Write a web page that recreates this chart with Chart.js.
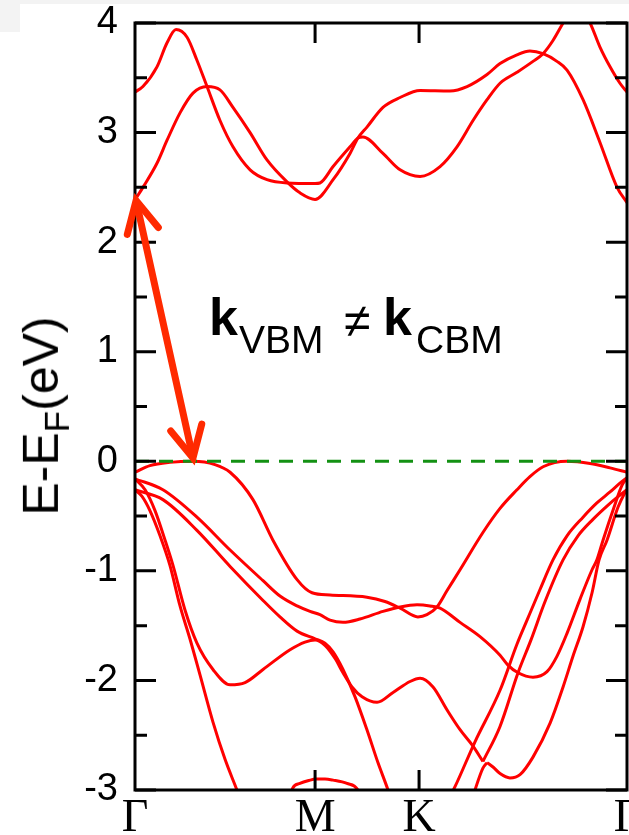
<!DOCTYPE html>
<html>
<head>
<meta charset="utf-8">
<script src="https://cdn.jsdelivr.net/npm/chart.js@4.4.1/dist/chart.umd.min.js"></script>
<style>
  html, body { margin: 0; padding: 0; background: #fff; }
  #wrap { position: relative; width: 629px; height: 835px; overflow: hidden; background: #fff; }
  #c { position: absolute; left: 0; top: 0; }
  .txt { position: absolute; font-family: 'Liberation Sans', Arial, sans-serif; line-height: 1; white-space: nowrap; color: #000; }
  #ytitle { left: 45px; top: 416px; font-size: 50px; transform: translate(-50%, -50%) rotate(-90deg); }
  #ytitle sub { font-size: 0.7em; vertical-align: -0.32em; line-height: 1; }
  .kb { font-weight: bold; font-size: 52px; }
  .sb { font-size: 39px; }
  .neq { font-size: 48px; }
  .shade { position: absolute; background: #f3f3f3; }
</style>
</head>
<body>
<div id="wrap">
  <canvas id="c" width="629" height="835"></canvas>
  <div class="shade" style="left:0;top:0;width:629px;height:4px;"></div>
  <div class="shade" style="left:0;top:0;width:20px;height:32px;"></div>
  <div id="ytitle" class="txt">E-E<sub>F</sub>(eV)</div>
  <div class="txt kb" style="left:209px;top:291px;">k</div>
  <div class="txt sb" style="left:239px;top:320px;">VBM</div>
  <div class="txt neq" style="left:344px;top:297px;">≠</div>
  <div class="txt kb" style="left:383px;top:291px;">k</div>
  <div class="txt sb" style="left:416px;top:320px;">CBM</div>
</div>
<script>
// ---- axis definitions ----
const kTicks  = [0, 1, 1.5774, 2.7321];
const kLabels = ['Γ', 'M', 'K', 'Γ'];
const eTicks  = [-3, -2, -1, 0, 1, 2, 3, 4];
const eMinor  = [-2.5, -1.5, -0.5, 0.5, 1.5, 2.5, 3.5];

// ---- conduction bands ----
const k_c1 = [0,0.044,0.122,0.178,0.250,0.322,0.400,0.472,0.544,0.639,0.733,0.844,0.916,1.0,1.100,1.194,1.238,1.288,1.377,1.472,1.583,1.749,1.844,1.955,2.027,2.121,2.193,2.266,2.343,2.399,2.488,2.582,2.677,2.7321];
const e_c1 = [2.385,2.50,2.72,2.93,3.18,3.36,3.42,3.39,3.23,3.00,2.75,2.55,2.45,2.39,2.57,2.81,2.95,3.05,3.23,3.32,3.385,3.38,3.42,3.53,3.63,3.71,3.745,3.72,3.65,3.57,3.30,2.91,2.50,2.36];

const k_c2 = [0,0.044,0.122,0.178,0.228,0.289,0.344,0.400,0.472,0.544,0.639,0.733,0.844,1.0,1.027,1.100,1.194,1.238,1.266,1.377,1.472,1.583,1.694,1.788,1.877,1.955,2.027,2.121,2.210,2.266,2.321,2.377,2.449,2.527,2.582,2.638,2.693,2.7321];
const e_c2 = [3.37,3.42,3.60,3.82,3.94,3.87,3.66,3.42,3.11,2.87,2.66,2.57,2.54,2.535,2.54,2.69,2.87,2.95,2.96,2.81,2.66,2.60,2.69,2.87,3.11,3.30,3.45,3.55,3.65,3.72,3.84,4.0,4.2,4.0,3.78,3.60,3.45,3.37];

// ---- valence bands ----
const k_v1 = [0,0.083,0.194,0.322,0.444,0.528,0.655,0.766,0.900,0.983,1.083,1.288,1.388,1.472,1.571,1.621,1.677,1.733,1.805,1.932,2.027,2.121,2.193,2.266,2.399,2.527,2.638,2.7321];
const e_v1 = [-0.10,-0.04,-0.01,0.0,-0.03,-0.10,-0.35,-0.72,-1.08,-1.20,-1.22,-1.24,-1.28,-1.34,-1.42,-1.40,-1.33,-1.18,-0.99,-0.65,-0.43,-0.26,-0.14,-0.05,0.0,-0.02,-0.06,-0.10];

const k_v2 = [0,0.155,0.344,0.528,0.711,0.805,0.900,0.972,1.027,1.083,1.155,1.249,1.377,1.472,1.566,1.638,1.694,1.805,1.916,2.027,2.071,2.127,2.210,2.288,2.343,2.399,2.471,2.538,2.565,2.599,2.660,2.704,2.7321];
const e_v2 = [-0.16,-0.26,-0.51,-0.81,-1.09,-1.23,-1.32,-1.37,-1.40,-1.45,-1.47,-1.44,-1.37,-1.33,-1.31,-1.32,-1.34,-1.47,-1.60,-1.77,-1.86,-1.93,-1.97,-1.92,-1.78,-1.57,-1.26,-0.99,-0.90,-0.72,-0.42,-0.22,-0.15];

const k_v3 = [0,0.155,0.344,0.528,0.711,0.805,0.900,1.0,1.055,1.100,1.155,1.222,1.288,1.349,1.405,1.444];
const e_v3 = [-0.26,-0.35,-0.63,-0.96,-1.27,-1.42,-1.55,-1.62,-1.66,-1.74,-1.90,-2.15,-2.45,-2.75,-3.0,-3.2];

const k_v4 = [0,0.056,0.111,0.167,0.211,0.278,0.344,0.433,0.528,0.611,0.711,0.861,0.944,1.0,1.055,1.111,1.155,1.205,1.261,1.344,1.433,1.527,1.583,1.655,1.733,1.805,1.877,1.932];
const e_v4 = [-0.16,-0.26,-0.45,-0.72,-0.95,-1.36,-1.66,-1.90,-2.04,-2.02,-1.90,-1.72,-1.65,-1.63,-1.68,-1.80,-1.93,-2.06,-2.15,-2.20,-2.11,-2.01,-1.98,-2.06,-2.27,-2.45,-2.60,-2.74];

const k_v5 = [0,0.039,0.083,0.139,0.194,0.250,0.305,0.361,0.433,0.500,0.566,0.611];
const e_v5 = [-0.26,-0.32,-0.45,-0.68,-0.95,-1.32,-1.62,-1.95,-2.38,-2.72,-3.0,-3.2];

const k_v6 = [0.833,0.877,0.916,0.972,1.0,1.055,1.100,1.177,1.238,1.277];
const e_v6 = [-3.2,-2.98,-2.94,-2.91,-2.90,-2.90,-2.91,-2.94,-3.0,-3.2];

const k_v7 = [1.932,2.027,2.127,2.199,2.277,2.377,2.460,2.543,2.627,2.677,2.7321];
const e_v7 = [-2.74,-2.42,-1.93,-1.63,-1.28,-0.90,-0.68,-0.53,-0.40,-0.33,-0.26];

const k_v8 = [1.721,1.777,1.888,2.027,2.121,2.177,2.249,2.321,2.399,2.488,2.565,2.638,2.693,2.7321];
const e_v8 = [-3.15,-2.97,-2.56,-2.09,-1.67,-1.45,-1.17,-0.90,-0.68,-0.51,-0.38,-0.28,-0.20,-0.15];

const k_v9 = [1.860,1.888,1.932,1.955];
const e_v9 = [-3.15,-3.0,-2.80,-2.75];

const k_v10 = [1.955,1.988,2.027,2.082,2.138,2.210,2.305,2.377,2.432,2.488,2.538,2.577,2.621,2.682,2.716,2.7321];
const e_v10 = [-2.75,-2.79,-2.85,-2.89,-2.86,-2.70,-2.39,-2.06,-1.78,-1.51,-1.20,-0.90,-0.72,-0.42,-0.30,-0.26];

// ---- Fermi level & gap arrow (data units) ----
const k_ef = [0, 2.7321];
const e_ef = [0, 0];
const arrowFrom = [0.006, 2.38];
const arrowTo   = [0.322, 0.03];

const bandList = [
  [k_c1,e_c1],[k_c2,e_c2],
  [k_v1,e_v1],[k_v2,e_v2],[k_v3,e_v3],[k_v4,e_v4],[k_v5,e_v5],
  [k_v6,e_v6],[k_v7,e_v7],[k_v8,e_v8],[k_v9,e_v9],[k_v10,e_v10]
];
const toPts = (k, e) => k.map((x, i) => ({ x: x, y: e[i] }));

const datasets = bandList.map(([k, e]) => ({
  data: toPts(k, e),
  borderColor: '#ff0000',
  borderWidth: 3,
  pointRadius: 0,
  fill: false,
  cubicInterpolationMode: 'monotone',
  order: 2
}));
datasets.push({
  data: toPts(k_ef, e_ef),
  borderColor: '#139113',
  borderWidth: 3,
  borderDash: [14, 10],
  pointRadius: 0,
  fill: false,
  order: 1
});

const framePlugin = {
  id: 'framePlugin',
  afterDatasetsDraw(chart) {
    const { ctx, chartArea: a, scales: { x, y } } = chart;
    ctx.save();
    ctx.strokeStyle = '#000';
    ctx.lineWidth = 3;
    ctx.lineCap = 'butt';
    ctx.beginPath();
    eTicks.forEach(v => {
      const py = y.getPixelForValue(v);
      ctx.moveTo(a.left, py); ctx.lineTo(a.left + 21, py);
      ctx.moveTo(a.right, py); ctx.lineTo(a.right - 21, py);
    });
    eMinor.forEach(v => {
      const py = y.getPixelForValue(v);
      ctx.moveTo(a.left, py); ctx.lineTo(a.left + 12, py);
      ctx.moveTo(a.right, py); ctx.lineTo(a.right - 12, py);
    });
    kTicks.slice(1, -1).forEach(k => {
      const px = x.getPixelForValue(k);
      ctx.moveTo(px, a.top); ctx.lineTo(px, a.top + 20);
      ctx.moveTo(px, a.bottom); ctx.lineTo(px, a.bottom - 20);
    });
    ctx.stroke();
    ctx.strokeRect(a.left, a.top, a.right - a.left, a.bottom - a.top);

    // double-headed arrow
    const x1 = x.getPixelForValue(arrowFrom[0]), y1 = y.getPixelForValue(arrowFrom[1]);
    const x2 = x.getPixelForValue(arrowTo[0]),   y2 = y.getPixelForValue(arrowTo[1]);
    const L = Math.hypot(x2 - x1, y2 - y1);
    const ux = (x2 - x1) / L, uy = (y2 - y1) / L;
    const ang = 27 * Math.PI / 180, len = 35;
    const rot = (dx, dy, t) => [dx * Math.cos(t) - dy * Math.sin(t), dx * Math.sin(t) + dy * Math.cos(t)];
    ctx.strokeStyle = '#ff2a00';
    ctx.lineWidth = 7;
    ctx.lineCap = 'round';
    ctx.lineJoin = 'miter';
    ctx.beginPath();
    ctx.moveTo(x1 + ux * 3, y1 + uy * 3);
    ctx.lineTo(x2 - ux * 3, y2 - uy * 3);
    ctx.stroke();
    const head = (tx, ty, dx, dy) => {
      const a1 = rot(dx, dy, ang), a2 = rot(dx, dy, -ang);
      ctx.beginPath();
      ctx.moveTo(tx + a1[0] * len, ty + a1[1] * len);
      ctx.lineTo(tx, ty);
      ctx.lineTo(tx + a2[0] * len, ty + a2[1] * len);
      ctx.stroke();
    };
    head(x1, y1, ux, uy);
    head(x2, y2, -ux, -uy);
    ctx.restore();
  }
};

new Chart(document.getElementById('c'), {
  type: 'line',
  data: { datasets: datasets },
  options: {
    responsive: false,
    animation: false,
    devicePixelRatio: 1,
    layout: { padding: { left: 0, right: 2, top: 23, bottom: 0 } },
    plugins: { legend: { display: false }, tooltip: { enabled: false } },
    scales: {
      x: {
        type: 'linear',
        min: 0, max: kTicks[kTicks.length - 1],
        grid: { display: false },
        border: { display: false },
        afterBuildTicks: s => { s.ticks = kTicks.map(v => ({ value: v })); },
        afterFit: s => { s.height = 45; s.paddingLeft = 0; s.paddingRight = 0; },
        ticks: {
          autoSkip: false, maxRotation: 0, minRotation: 0, padding: -2,
          color: '#000',
          font: { family: "'Liberation Serif', 'Times New Roman', serif", size: 46, lineHeight: 1 },
          callback: (v, i) => kLabels[i]
        }
      },
      y: {
        type: 'linear',
        min: eTicks[0], max: eTicks[eTicks.length - 1],
        grid: { display: false },
        border: { display: false },
        afterBuildTicks: s => { s.ticks = eTicks.map(v => ({ value: v })); },
        afterFit: s => { s.width = 135; s.paddingTop = 0; s.paddingBottom = 0; },
        ticks: {
          autoSkip: false, padding: 9,
          color: '#000',
          font: { family: "'Liberation Sans', Arial, sans-serif", size: 38, lineHeight: 1 },
          callback: v => String(v)
        }
      }
    }
  },
  plugins: [framePlugin]
});
</script>
</body>
</html>
